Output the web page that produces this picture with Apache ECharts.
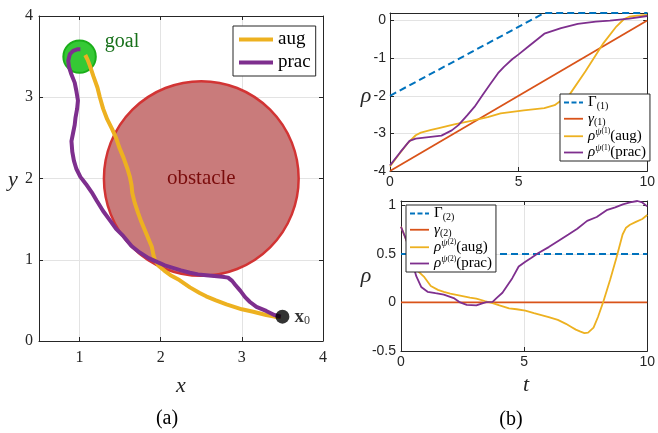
<!DOCTYPE html>
<html><head><meta charset="utf-8">
<script src="https://cdn.jsdelivr.net/npm/echarts@6.0.0/dist/echarts.min.js"></script>
<style>html,body{margin:0;padding:0;background:#fff}#c{width:658px;height:433px}</style>
</head><body><div id="c"></div>
<script>
const SERIF = "'Liberation Serif','DejaVu Serif',serif";
const SANS = "'Liberation Sans','DejaVu Sans',sans-serif";

// ---------- Panel (a): trajectories in the plane ----------
const augPath = [[3.48,0.30],[3.40,0.30],[3.30,0.32],[3.14,0.36],[3.00,0.39],[2.81,0.45],[2.68,0.50],[2.56,0.55],[2.48,0.59],[2.36,0.66],[2.23,0.75],[2.12,0.81],[2.04,0.87],[1.98,0.92],[1.93,0.99],[1.91,1.06],[1.89,1.16],[1.86,1.23],[1.81,1.35],[1.76,1.47],[1.72,1.58],[1.68,1.70],[1.65,1.82],[1.64,1.92],[1.62,2.02],[1.59,2.12],[1.54,2.26],[1.49,2.38],[1.45,2.50],[1.40,2.61],[1.34,2.73],[1.29,2.86],[1.25,3.00],[1.22,3.12],[1.17,3.26],[1.13,3.38],[1.10,3.46],[1.07,3.52]];
const pracPath = [[3.48,0.30],[3.40,0.32],[3.30,0.37],[3.18,0.42],[3.10,0.48],[3.04,0.54],[2.98,0.62],[2.92,0.69],[2.88,0.74],[2.83,0.78],[2.76,0.79],[2.66,0.80],[2.56,0.81],[2.46,0.82],[2.36,0.84],[2.25,0.87],[2.15,0.90],[2.05,0.93],[1.96,0.97],[1.85,1.02],[1.74,1.09],[1.64,1.17],[1.54,1.29],[1.45,1.38],[1.37,1.49],[1.29,1.60],[1.21,1.73],[1.15,1.83],[1.08,1.93],[1.01,2.02],[0.96,2.12],[0.93,2.22],[0.91,2.33],[0.90,2.46],[0.92,2.56],[0.94,2.66],[0.95,2.75],[0.97,2.86],[0.98,2.96],[0.96,3.08],[0.94,3.18],[0.90,3.28],[0.87,3.37],[0.86,3.45],[0.88,3.53],[0.92,3.57],[0.97,3.59],[1.01,3.59]];
const obstacle = [[2.5, 2.0, 1.2]];
const goal = [[1.0, 3.5, 0.2]];
const startPt = [[3.5, 0.3]];
const xTicksA = [1, 2, 3, 4];
const yTicksA = [0, 1, 2, 3, 4];

// ---------- Panel (b) top: rho for spec (1) ----------
const gammaUpper1 = [[0,-2],[6,0.2],[10,0.2]];
const gammaLower1 = [[0,-4],[10,0]];
const rhoAug1 = [[0,-3.88],[0.3,-3.6],[0.7,-3.25],[1.0,-3.05],[1.2,-2.98],[1.6,-2.91],[1.9,-2.86],[2.5,-2.76],[3.2,-2.66],[3.8,-2.57],[4.3,-2.47],[4.75,-2.43],[5.2,-2.39],[6.0,-2.33],[6.4,-2.25],[7.0,-1.95],[7.6,-1.35],[8.3,-0.6],[8.8,-0.16],[9.1,0.04],[9.3,0.1],[9.6,0.13],[10,0.15]];
const rhoPrac1 = [[0,-3.85],[0.4,-3.5],[0.76,-3.2],[1.0,-3.14],[1.5,-3.1],[2.0,-3.06],[2.4,-2.92],[2.66,-2.78],[3.0,-2.52],[3.29,-2.29],[3.6,-1.98],[3.92,-1.67],[4.2,-1.4],[4.43,-1.23],[4.75,-1.03],[5.0,-0.9],[5.38,-0.69],[6.0,-0.35],[6.65,-0.2],[7.3,-0.09],[8.0,-0.03],[8.55,0.0],[9.3,0.05],[10,0.12]];
const tTicks = [0, 5, 10];
const yTicksB1 = [-4, -3, -2, -1, 0];

// ---------- Panel (b) bottom: rho for spec (2) ----------
const gammaUpper2 = [[0,0.5],[10,0.5]];
const gammaLower2 = [[0,0],[10,0]];
const rhoAug2 = [[0,0.78],[0.25,0.62],[0.5,0.45],[0.7,0.32],[0.95,0.26],[1.21,0.17],[1.5,0.13],[1.74,0.11],[2.0,0.09],[2.4,0.07],[2.8,0.05],[3.06,0.04],[3.4,0.015],[3.72,-0.006],[4.0,-0.03],[4.39,-0.06],[4.7,-0.07],[5.05,-0.085],[5.4,-0.11],[5.7,-0.13],[6.0,-0.15],[6.37,-0.18],[6.7,-0.22],[6.9,-0.25],[7.1,-0.28],[7.29,-0.30],[7.45,-0.315],[7.6,-0.31],[7.82,-0.26],[8.0,-0.15],[8.22,0.01],[8.5,0.24],[8.75,0.46],[9.0,0.70],[9.14,0.77],[9.3,0.80],[9.54,0.83],[9.8,0.86],[10,0.90]];
const rhoPrac2 = [[0,0.78],[0.22,0.64],[0.45,0.42],[0.62,0.27],[0.82,0.16],[1.08,0.11],[1.4,0.095],[1.74,0.08],[2.14,0.045],[2.4,0.0],[2.67,-0.024],[3.06,-0.03],[3.3,-0.01],[3.46,0.004],[3.72,0.005],[3.9,0.05],[4.12,0.1],[4.52,0.25],[4.78,0.37],[5.05,0.42],[5.3,0.46],[5.58,0.51],[6.0,0.57],[6.37,0.63],[6.8,0.7],[7.16,0.76],[7.56,0.84],[7.95,0.88],[8.35,0.95],[8.7,0.98],[9.01,1.01],[9.3,1.03],[9.6,1.045],[9.8,1.03],[10,0.99]];
const yTicksB2 = [-0.5, 0, 0.5, 1];

const C_BLUE = '#0072BD', C_RED = '#D95319', C_YEL = '#EDB120', C_PUR = '#7E2F8E';
const AX = '#262626', GRIDC = '#e3e3e3';

function axes(dim, gi, min, max, ticks, fam, size, margin) {
  const mk = (main) => ({
    type: 'value', gridIndex: gi, min: min, max: max,
    position: dim === 'x' ? (main ? 'bottom' : 'top') : (main ? 'left' : 'right'),
    axisLine: { show: true, onZero: false, lineStyle: { color: AX, width: 1 } },
    axisTick: { show: true, inside: true, length: 4, customValues: ticks, lineStyle: { color: AX } },
    axisLabel: main ? { show: true, customValues: ticks, fontFamily: fam, fontSize: size, color: AX, margin: margin }
                    : { show: false },
    splitLine: { show: main, lineStyle: { color: GRIDC, width: 1 } }
  });
  return [mk(true), mk(false)];
}

const xAxes = [].concat(
  axes('x', 0, 0.5, 4, xTicksA, SERIF, 16, 9),
  axes('x', 1, 0, 10, tTicks, SANS, 14, 4),
  axes('x', 2, 0, 10, tTicks, SANS, 14, 4)
);
const yAxes = [].concat(
  axes('y', 0, 0, 4, yTicksA, SERIF, 16, 6),
  axes('y', 1, -4, 0.2, yTicksB1, SANS, 14, 4),
  axes('y', 2, -0.5, 1.045, yTicksB2, SANS, 14, 5)
);

function circleItem(fill, stroke, lw, label) {
  return function (params, api) {
    const c = api.coord([api.value(0), api.value(1)]);
    const r = api.size([api.value(2), 0])[0];
    const children = [{ type: 'circle', shape: { cx: c[0], cy: c[1], r: r }, style: { fill: fill, stroke: stroke, lineWidth: lw } }];
    if (label) children.push(label(c, r));
    return { type: 'group', children: children };
  };
}

const richSmall = {
  g: { fontFamily: SERIF, fontSize: 15, lineHeight: 17.5, color: '#000' },
  gi: { fontFamily: SERIF, fontStyle: 'italic', fontSize: 15, lineHeight: 17.5, color: '#000' },
  sub: { fontFamily: SERIF, fontSize: 10, lineHeight: 10, verticalAlign: 'bottom', color: '#000' },
  sup: { fontFamily: SERIF, fontStyle: 'italic', fontSize: 10, lineHeight: 10, verticalAlign: 'top', color: '#000' },
  ss: { fontFamily: SERIF, fontSize: 7.5, lineHeight: 14, verticalAlign: 'top', color: '#000' },
  n: { fontFamily: SERIF, fontSize: 15, lineHeight: 17.5, color: '#000' }
};
const legendText = {
  G1: '{g|Γ}{sub|(1)}', g1: '{gi|γ}{sub|(1)}', A1: '{gi|ρ}{sup|ψ}{ss|(1)}{n|(aug)}', P1: '{gi|ρ}{sup|ψ}{ss|(1)}{n|(prac)}',
  G2: '{g|Γ}{sub|(2)}', g2: '{gi|γ}{sub|(2)}', A2: '{gi|ρ}{sup|ψ}{ss|(2)}{n|(aug)}', P2: '{gi|ρ}{sup|ψ}{ss|(2)}{n|(prac)}'
};
const legItem = (name, dashed, w) => ({ name: name, itemStyle: { opacity: 0 },
  lineStyle: dashed ? { type: [5, 2.5], width: 2 } : { type: 'solid', width: w || 1.8 } });
const legBase = {
  orient: 'vertical', itemWidth: 19, itemHeight: 10, itemGap: 0, padding: [1, 4, 1, 3],
  borderColor: AX, borderWidth: 1, borderRadius: 0, backgroundColor: '#fff', selectedMode: false,
  itemStyle: { opacity: 0 },
  formatter: n => legendText[n], textStyle: { rich: richSmall }
};

const lineS = (name, xi, yi, data, color, width, dashed, extra) => Object.assign({
  type: 'line', name: name, xAxisIndex: xi, yAxisIndex: yi, data: data, symbol: 'none', smooth: false,
  lineStyle: { color: color, width: width, type: dashed ? [7, 4] : 'solid' }, itemStyle: { color: color }, z: 2
}, extra || {});

const option = {
  animation: false,
  grid: [
    { left: 39, top: 16, width: 284, height: 325 },
    { left: 390, top: 13, width: 263, height: 158 },
    { left: 401, top: 201, width: 252, height: 150 }
  ],
  xAxis: xAxes,
  yAxis: yAxes,
  legend: [
    { data: [legItem('aug', false, 4), legItem('prac', false, 4)], left: 233, top: 26, orient: 'vertical', itemWidth: 34, itemHeight: 10, itemGap: 2,
      padding: [3, 5, 3, 4], borderColor: AX, borderWidth: 1, borderRadius: 0, backgroundColor: '#fff', selectedMode: false,
      itemStyle: { opacity: 0 },
      textStyle: { fontFamily: SERIF, fontSize: 19, lineHeight: 21, color: '#000' } },
    Object.assign({}, legBase, { data: [legItem('G1', true), legItem('g1'), legItem('A1'), legItem('P1')], left: 560, top: 94 }),
    Object.assign({}, legBase, { data: [legItem('G2', true), legItem('g2'), legItem('A2'), legItem('P2')], left: 406, top: 205 })
  ],
  series: [
    { type: 'custom', xAxisIndex: 0, yAxisIndex: 0, data: obstacle, z: 1,
      renderItem: circleItem('#c97b7b', '#d23434', 2.5, (c, r) => ({ type: 'text', x: c[0], y: c[1],
        style: { text: 'obstacle', font: '21px ' + SERIF, fill: '#7a0c0c', align: 'center', verticalAlign: 'middle' } })) },
    { type: 'custom', xAxisIndex: 0, yAxisIndex: 0, data: goal, z: 1,
      renderItem: circleItem('#35c935', '#1aae1a', 2, (c, r) => ({ type: 'text', x: c[0] + r + 9, y: c[1] - 15,
        style: { text: 'goal', font: '20px ' + SERIF, fill: '#17701a', align: 'left', verticalAlign: 'middle' } })) },
    lineS('aug', 0, 0, augPath, C_YEL, 4, false, { z: 3 }),
    lineS('prac', 0, 0, pracPath, C_PUR, 4, false, { z: 3 }),
    { type: 'scatter', xAxisIndex: 0, yAxisIndex: 0, data: startPt, symbolSize: 14, itemStyle: { color: '#000' }, z: 5,
      label: { show: true, position: 'right', distance: 5, formatter: '{b|x}{s|0}',
        rich: { b: { fontFamily: SERIF, fontWeight: 'bold', fontSize: 19, lineHeight: 20, color: '#000' },
                s: { fontFamily: SERIF, fontSize: 12, lineHeight: 10, verticalAlign: 'bottom', color: '#000' } } } },

    lineS('G1', 2, 2, gammaUpper1, C_BLUE, 2, true, { clip: false }),
    lineS('g1', 2, 2, gammaLower1, C_RED, 1.8, false),
    lineS('A1', 2, 2, rhoAug1, C_YEL, 1.8, false),
    lineS('P1', 2, 2, rhoPrac1, C_PUR, 1.8, false),

    lineS('G2', 4, 4, gammaUpper2, C_BLUE, 2, true),
    lineS('g2', 4, 4, gammaLower2, C_RED, 1.8, false),
    lineS('A2', 4, 4, rhoAug2, C_YEL, 1.8, false),
    lineS('P2', 4, 4, rhoPrac2, C_PUR, 1.8, false)
  ],
  graphic: [
    { type: 'text', x: 181, y: 386, style: { text: 'x', font: 'italic 22px ' + SERIF, fill: AX, align: 'center', verticalAlign: 'middle' } },
    { type: 'text', x: 13, y: 180, style: { text: 'y', font: 'italic 22px ' + SERIF, fill: AX, align: 'center', verticalAlign: 'middle' } },
    { type: 'text', x: 366, y: 96, style: { text: 'ρ', font: 'italic 22px ' + SERIF, fill: AX, align: 'center', verticalAlign: 'middle' } },
    { type: 'text', x: 366, y: 276, style: { text: 'ρ', font: 'italic 22px ' + SERIF, fill: AX, align: 'center', verticalAlign: 'middle' } },
    { type: 'text', x: 526, y: 385, style: { text: 't', font: 'italic 22px ' + SERIF, fill: AX, align: 'center', verticalAlign: 'middle' } },
    { type: 'text', x: 167, y: 419, style: { text: '(a)', font: '20px ' + SERIF, fill: '#000', align: 'center', verticalAlign: 'middle' } },
    { type: 'text', x: 511, y: 420, style: { text: '(b)', font: '20px ' + SERIF, fill: '#000', align: 'center', verticalAlign: 'middle' } }
  ]
};
echarts.init(document.getElementById('c'), null, { renderer: 'canvas' }).setOption(option);
</script></body></html>
